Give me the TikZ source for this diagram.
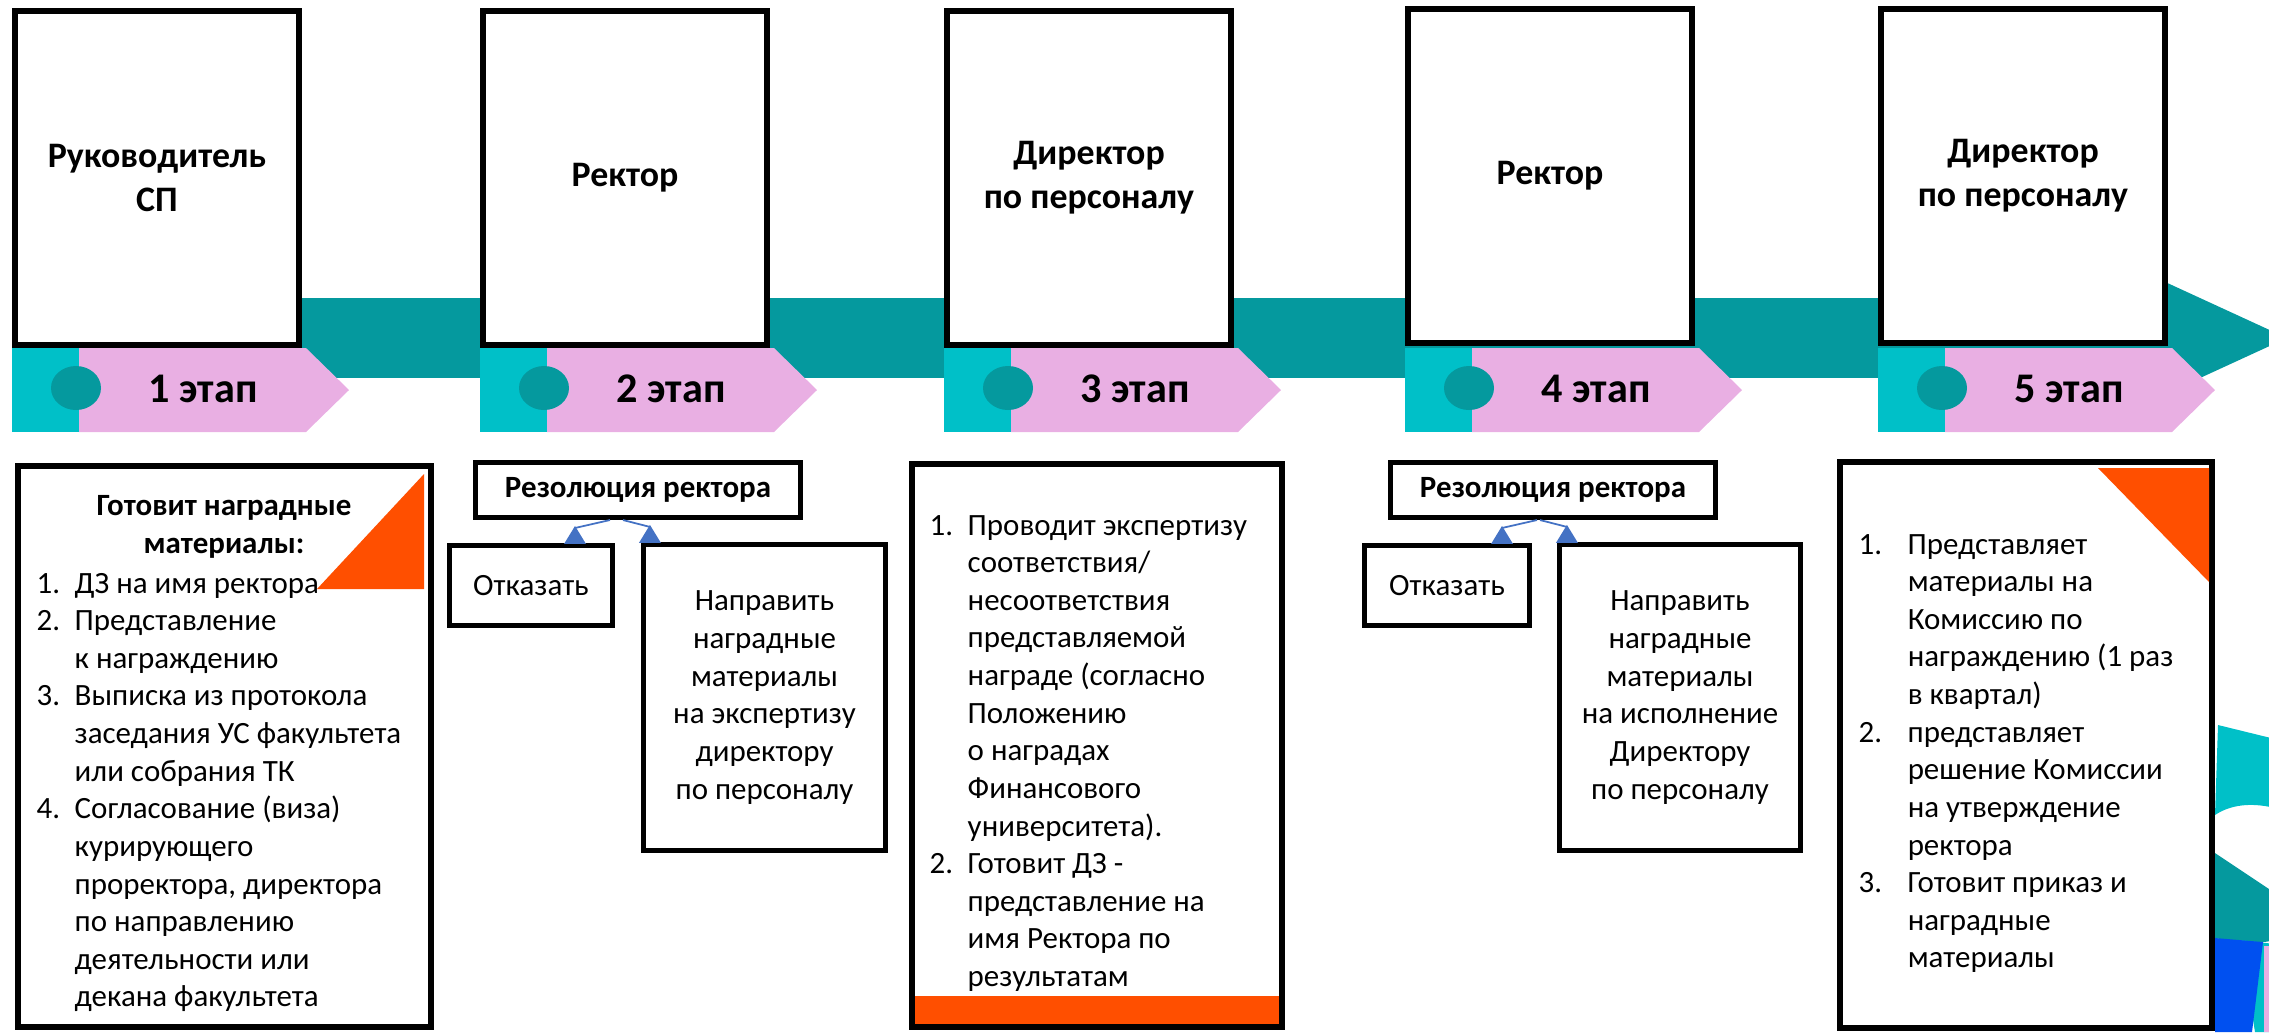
\documentclass[tikz,border=0pt]{standalone}
\usepackage{fontspec}
\setmainfont{Carlito}

\definecolor{bandteal}{HTML}{05999E}
\definecolor{stagecyan}{HTML}{00C0C8}
\definecolor{stagepink}{HTML}{E9AFE3}
\definecolor{markorange}{HTML}{FF4F00}
\definecolor{linkblue}{HTML}{4472C4}
\definecolor{decoblue}{HTML}{0050F0}

\newcommand\ttlfont{\fontsize{10.2}{12.6}\selectfont\bfseries}
\newcommand\stgfont{\fontsize{12}{14}\selectfont\bfseries}
\newcommand\txtfont{\fontsize{8.8}{10.7}\selectfont}
\newcommand\headtri[2]{\fill [linkblue] ([xshift=#2cm, yshift=0.17cm]#1.north) -- ([xshift=#2cm-0.11cm, yshift=-0.01cm]#1.north) -- ([xshift=#2cm+0.11cm, yshift=-0.01cm]#1.north) -- cycle;}

\begin{document}
\begin{tikzpicture}[x=0.01cm, y=-0.01cm,
	boxframe/.style={draw=black, line width=0.055cm, fill=white, inner sep=0pt},
	rolebox/.style={boxframe, minimum width=2.84cm, minimum height=3.34cm, align=center, font=\ttlfont},
	notebox/.style={boxframe, line width=0.05cm, align=center, font=\txtfont},
	linkline/.style={draw=linkblue, line width=0.5pt}]
	\useasboundingbox (0,0) rectangle (2269,1032);

	\fill [bandteal] (150,298) rectangle (2160,378);
	\fill [bandteal] (2150,275) -- (2287,338) -- (2150,401) -- cycle;

	\node [rolebox] (top1) at (157,178) {Руководитель\\СП};
	\node [rolebox] (top2) at (625,178) {Ректор};
	\node [rolebox] (top3) at (1089,178) {Директор\\по персоналу};
	\node [rolebox] (top4) at (1550,176) {Ректор};
	\node [rolebox] (top5) at (2023,176) {Директор\\по персоналу};

	\foreach \L/\n in {12/1,480/2,944/3,1405/4,1878/5}{
		\fill [stagecyan] (\L,348) rectangle (\L+96,432);
		\fill [stagepink] (\L+67,348) -- (\L+294,348) -- (\L+337,390) -- (\L+294,432) -- (\L+67,432) -- cycle;
		\fill [bandteal] (\L+64,388) ellipse [x radius=25, y radius=22];
		\node [font=\stgfont] (stage\n) at (\L+191,389) {\n~этап};
	}

	\fill [stagecyan] (2218,725) -- (2275,739) -- (2275,808) .. controls (2250,802) and (2230,805) .. (2215,815) -- cycle;
	\fill [bandteal] (2215,853) -- (2275,893) -- (2275,940) .. controls (2250,946) and (2230,941) .. (2215,938) -- cycle;
	\fill [stagecyan] (2240,940) -- (2275,944) -- (2275,1032) -- (2255,1032) -- cycle;
	\fill [stagepink] (2264,946) rectangle (2275,1032);
	\fill [decoblue] (2215,938) -- (2263,942) -- (2252,1032) -- (2215,1032) -- cycle;

	\node [boxframe, minimum width=4.13cm, minimum height=5.61cm] (task1) at (224.5,746.5) {};
	\node [font=\txtfont\bfseries, align=center] (head1) at (224,527) {Готовит наградные\\материалы:};
	\node [anchor=base west, inner sep=0pt, font=\txtfont] (list1) at (36,593) {\begin{tabular}[t]{@{}p{0.38cm}@{}l@{}}
		1. & ДЗ на имя ректора\\
		2. & Представление\\
		& к награждению\\
		3. & Выписка из протокола\\
		& заседания УС факультета\\
		& или собрания ТК\\
		4. & Согласование (виза)\\
		& курирующего\\
		& проректора, директора\\
		& по направлению\\
		& деятельности или\\
		& декана факультета
	\end{tabular}};
	\fill [markorange] (317,589) -- (424,589) -- (424,474) -- cycle;

	\node [notebox, font=\txtfont\bfseries, minimum width=3.25cm, minimum height=0.55cm] (res2) at (638,490) {Резолюция ректора};
	\node [notebox, minimum width=1.63cm, minimum height=0.8cm] (no2) at (531,585.5) {Отказать};
	\node [notebox, minimum width=2.42cm, minimum height=3.06cm] (send2) at (764.5,697.5) {Направить\\наградные\\материалы\\на экспертизу\\директору\\по персоналу};
	\draw [linkline] ([xshift=-0.28cm]res2.south) -- ([xshift=0.44cm, yshift=0.15cm]no2.north) -- ([xshift=0.44cm]no2.north);
	\draw [linkline] ([xshift=-0.15cm]res2.south) -- ([xshift=-1.145cm, yshift=0.15cm]send2.north) -- ([xshift=-1.145cm]send2.north);
	\headtri{no2}{0.44}
	\headtri{send2}{-1.145}

	\node [boxframe, minimum width=3.7cm, minimum height=5.63cm] (task3) at (1097,745.5) {};
	\fill [markorange] (915,996) rectangle (1279,1024);
	\node [anchor=base west, inner sep=0pt, font=\txtfont] (list3) at (929,535) {\begin{tabular}[t]{@{}p{0.38cm}@{}l@{}}
		1. & Проводит экспертизу\\
		& соответствия/\\
		& несоответствия\\
		& представляемой\\
		& награде (согласно\\
		& Положению\\
		& о наградах\\
		& Финансового\\
		& университета).\\
		2. & Готовит ДЗ -\\
		& представление на\\
		& имя Ректора по\\
		& результатам
	\end{tabular}};

	\node [notebox, font=\txtfont\bfseries, minimum width=3.25cm, minimum height=0.55cm] (res4) at (1553,490) {Резолюция ректора};
	\node [notebox, minimum width=1.65cm, minimum height=0.8cm] (no4) at (1447,585.5) {Отказать};
	\node [notebox, minimum width=2.41cm, minimum height=3.06cm] (send4) at (1680,697.5) {Направить\\наградные\\материалы\\на исполнение\\Директору\\по персоналу};
	\draw [linkline] ([xshift=-0.16cm]res4.south) -- ([xshift=0.55cm, yshift=0.15cm]no4.north) -- ([xshift=0.55cm]no4.north);
	\draw [linkline] ([xshift=-0.13cm]res4.south) -- ([xshift=-1.13cm, yshift=0.15cm]send4.north) -- ([xshift=-1.13cm]send4.north);
	\headtri{no4}{0.55}
	\headtri{send4}{-1.13}

	\node [boxframe, minimum width=3.72cm, minimum height=5.66cm] (task5) at (2026,745) {};
	\fill [markorange] (2098,468) -- (2209,468) -- (2209,582) -- cycle;
	\node [anchor=base west, inner sep=0pt, font=\txtfont] (list5) at (1858,554) {\begin{tabular}[t]{@{}p{0.49cm}@{}l@{}}
		1. & Представляет\\
		& материалы на\\
		& Комиссию по\\
		& награждению (1 раз\\
		& в квартал)\\
		2. & представляет\\
		& решение Комиссии\\
		& на утверждение\\
		& ректора\\
		3. & Готовит приказ и\\
		& наградные\\
		& материалы
	\end{tabular}};

\end{tikzpicture}
\end{document}
